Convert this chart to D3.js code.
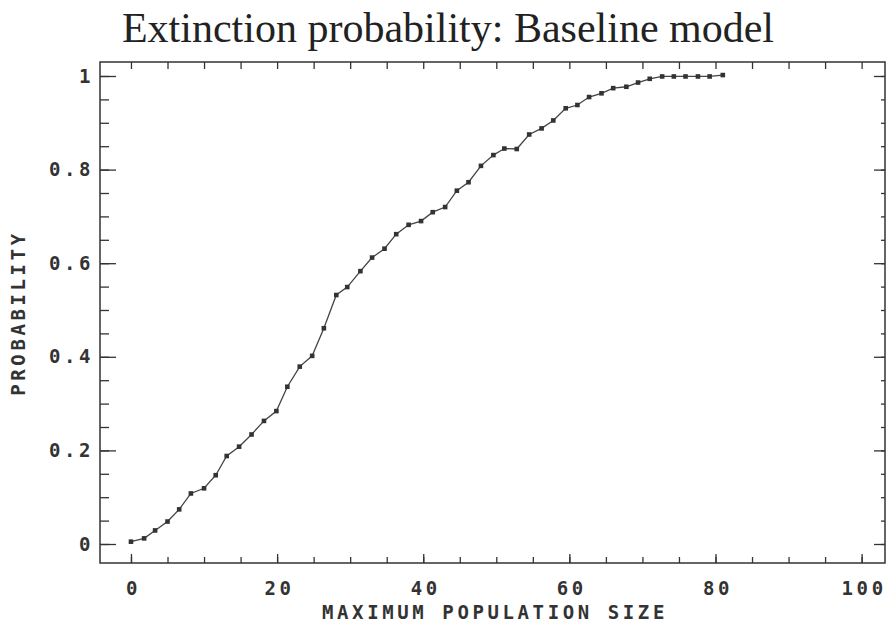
<!DOCTYPE html>
<html>
<head>
<meta charset="utf-8">
<script src="https://cdn.jsdelivr.net/npm/d3@7"></script>
<style>
  body { margin: 0; background: #fff; }
  .plotter { font-family: "DejaVu Sans Mono", monospace; font-weight: bold; fill: #333; font-size: 19px; letter-spacing: 3.6px; }
</style>
</head>
<body>
<svg class="chart"></svg>
<script>
// maximum population size (x) and extinction probability (y)
const popSize = [0, 1.8, 3.3, 5.0, 6.6, 8.2, 10.0, 11.6, 13.1, 14.8,
    16.5, 18.2, 19.9, 21.4, 23.1, 24.8, 26.4, 28.1, 29.6, 31.4,
    33.0, 34.7, 36.3, 38.0, 39.7, 41.3, 43.0, 44.6, 46.2, 47.9,
    49.6, 51.1, 52.8, 54.5, 56.2, 57.8, 59.5, 61.1, 62.7, 64.4,
    66.0, 67.8, 69.4, 71.0, 72.7, 74.3, 75.9, 77.6, 79.2, 81.0];

const extinctProb = [0.005, 0.012, 0.029, 0.048, 0.074, 0.108, 0.119, 0.147, 0.188, 0.208,
    0.234, 0.263, 0.284, 0.336, 0.379, 0.402, 0.461, 0.532, 0.549, 0.583,
    0.612, 0.631, 0.662, 0.682, 0.690, 0.709, 0.720, 0.755, 0.773, 0.808,
    0.831, 0.845, 0.844, 0.875, 0.888, 0.905, 0.931, 0.938, 0.955, 0.963,
    0.974, 0.977, 0.986, 0.994, 0.999, 0.999, 0.999, 0.999, 0.999, 1.002];

const xMajorTicks = [0, 20, 40, 60, 80, 100];
const yMajorTicks = [0, 0.2, 0.4, 0.6, 0.8, 1];

const TITLE = "Extinction probability: Baseline model";
const X_LABEL = "MAXIMUM POPULATION SIZE";
const Y_LABEL = "PROBABILITY";

const WIDTH = 886, HEIGHT = 626;
const frame = { left: 100, right: 885, top: 62, bottom: 563 };

const points = popSize.map((d, i) => ({ x: d, y: extinctProb[i] }));

var x = d3.scaleLinear()
    .domain([-4.24, 103.2])
    .range([frame.left, frame.right]);

var y = d3.scaleLinear()
    .domain([-0.0406, 1.0299])
    .range([frame.bottom, frame.top]);

const xMinor = d3.range(0, 101, 5);
const yMinor = d3.range(0, 21).map(i => i * 0.05);

var svg = d3.select('.chart')
    .attr('width', WIDTH)
    .attr('height', HEIGHT);

// title
svg.append('text')
    .attr('x', 448)
    .attr('y', 42)
    .attr('text-anchor', 'middle')
    .style('font-family', '"Liberation Serif", "Times New Roman", serif')
    .style('font-size', '42px')
    .style('fill', '#222')
    .text(TITLE);

// frame
svg.append('rect')
    .attr('x', frame.left)
    .attr('y', frame.top)
    .attr('width', frame.right - frame.left)
    .attr('height', frame.bottom - frame.top)
    .attr('fill', 'none')
    .attr('stroke', '#333')
    .attr('stroke-width', 1.5);

function tickAxis(axis, vals, size, transform) {
    svg.append('g')
        .attr('transform', transform)
        .call(axis.tickValues(vals).tickSize(size).tickFormat(''))
        .call(g => g.select('.domain').remove())
        .call(g => g.selectAll('line').attr('stroke', '#333').attr('stroke-width', 1.3));
}

// inward ticks on all four sides
tickAxis(d3.axisTop(x), xMinor, 6, 'translate(0,' + frame.bottom + ')');
tickAxis(d3.axisTop(x), xMajorTicks, 9, 'translate(0,' + frame.bottom + ')');
tickAxis(d3.axisBottom(x), xMinor, 7, 'translate(0,' + frame.top + ')');
tickAxis(d3.axisRight(y), yMinor, 9, 'translate(' + frame.left + ',0)');
tickAxis(d3.axisRight(y), yMajorTicks, 16, 'translate(' + frame.left + ',0)');
tickAxis(d3.axisLeft(y), yMinor, 4, 'translate(' + frame.right + ',0)');
tickAxis(d3.axisLeft(y), yMajorTicks, 11, 'translate(' + frame.right + ',0)');

// tick labels
svg.append('g')
    .attr('transform', 'translate(2,' + frame.bottom + ')')
    .call(d3.axisBottom(x).tickValues(xMajorTicks).tickSize(0).tickPadding(19).tickFormat(d3.format('d')))
    .call(g => g.select('.domain').remove())
    .selectAll('text')
    .attr('class', 'plotter')
    .attr('font-size', null)
    .attr('font-family', null);

svg.append('g')
    .attr('transform', 'translate(' + (frame.left - 6) + ',0)')
    .call(d3.axisLeft(y).tickValues(yMajorTicks).tickSize(0).tickPadding(0).tickFormat(d => d3.format('.1f')(d).replace(/\.0$/, '')))
    .call(g => g.select('.domain').remove())
    .selectAll('text')
    .attr('class', 'plotter');

// axis titles
svg.append('text')
    .attr('class', 'plotter')
    .attr('x', 495)
    .attr('y', 619)
    .attr('text-anchor', 'middle')
    .text(X_LABEL);

svg.append('text')
    .attr('class', 'plotter')
    .attr('transform', 'translate(25,' + 313 + ') rotate(-90)')
    .attr('text-anchor', 'middle')
    .text(Y_LABEL);

// curve
var line = d3.line()
    .x(d => x(d.x))
    .y(d => y(d.y));

svg.append('path')
    .datum(points)
    .attr('d', line)
    .attr('fill', 'none')
    .attr('stroke', '#444')
    .attr('stroke-width', 1.3);

svg.selectAll('.pt')
    .data(points)
    .enter()
    .append('rect')
    .attr('class', 'pt')
    .attr('x', d => x(d.x) - 2.3)
    .attr('y', d => y(d.y) - 2.3)
    .attr('width', 4.6)
    .attr('height', 4.6)
    .attr('fill', '#333');
</script>
</body>
</html>
